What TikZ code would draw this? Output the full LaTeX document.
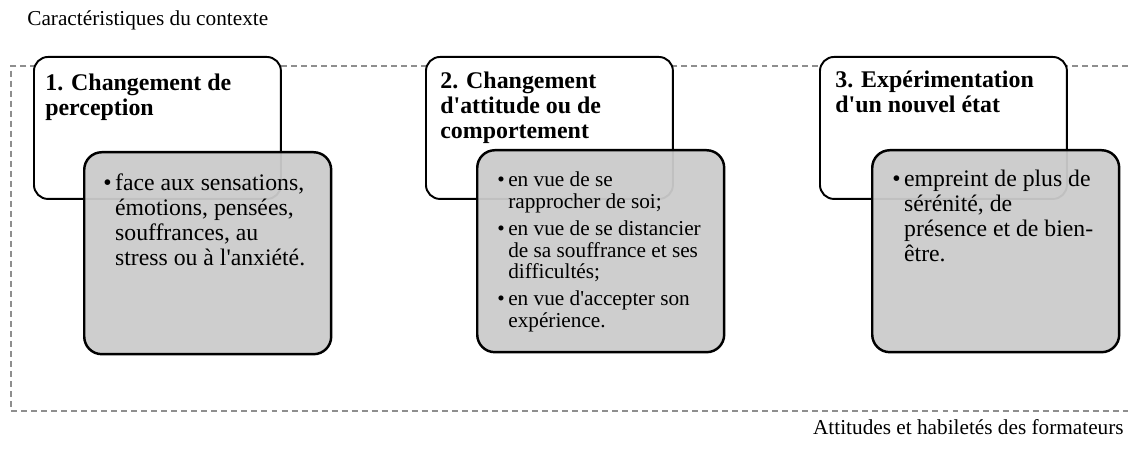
\documentclass[tikz,border=0pt]{standalone}
\usepackage{fontspec}
\setmainfont{Liberation Serif}
\usetikzlibrary{positioning}
\definecolor{fondgris}{HTML}{CBCBCB}
\definecolor{tirets}{HTML}{8E8E8E}
\newcommand\apos{\textquotesingle}
\tikzset{
    % Define white title box
    cadre/.style={
           draw=black,
           line width=1.1pt,
           rounded corners=8pt,
           fill=white,
           inner sep=0pt,
           minimum width=4.94cm,
           minimum height=2.84cm},
    % Define grey box with the bullets
    puces/.style={
           draw=black,
           line width=1.4pt,
           rounded corners=10pt,
           fill=fondgris,
           fill opacity=0.95,
           inner sep=0pt,
           minimum width=4.94cm,
           minimum height=4.04cm},
    titre/.style={anchor=base west, inner sep=0pt,
           font=\fontsize{13.6}{14}\selectfont\bfseries},
    texte/.style={anchor=base west, inner sep=0pt,
           font=\fontsize{13.5}{14.2}\selectfont},
    legende/.style={inner sep=0pt, font=\fontsize{12.1}{14}\selectfont}
}

\begin{document}
\begin{tikzpicture}[x=0.02cm, y=-0.02cm]
\useasboundingbox (0,0) rectangle (1128,449);

\node[legende, anchor=base west] (contexte) at (27,26) {Caractéristiques du contexte};
\draw[tirets, line width=0.6pt, dash pattern=on 3.4pt off 2.3pt]
(1128,66) -- (11,66) -- (11,411) -- (1128,411);
\node[legende, anchor=base east] (formateurs) at (1124,434) {Attitudes et habiletés des formateurs};

% 1
\node[cadre, anchor=north west] (cadre1) at (33,56) {};
\node[titre] (titre1) at ([shift={(12,35)}]cadre1.north west)
{\begin{tabular}[t]{@{}l@{}}1. Changement de\\perception\end{tabular}};
\node[puces, anchor=north west] (puces1) at ([shift={(50,95)}]cadre1.north west) {};
\node[texte] (texte1) at ([shift={(20,40)}]puces1.north west)
{\begin{tabular}[t]{@{}l@{\hspace{2pt}}l@{}}
\textbullet & face aux sensations,\\
 & émotions, pensées,\\
 & souffrances, au\\
 & stress ou à l\apos anxiété.
\end{tabular}};

% 2
\node[cadre, anchor=north west] (cadre2) at (425,56) {};
\node[titre] (titre2) at ([shift={(15,33)}]cadre2.north west)
{\begin{tabular}[t]{@{}l@{}}2. Changement\\d\apos attitude ou de\\comportement\end{tabular}};
\node[puces, anchor=north west] (puces2) at ([shift={(51,93)}]cadre2.north west) {};
\node[texte, font=\fontsize{12.1}{12.3}\selectfont] (texte2) at ([shift={(21,38)}]puces2.north west)
{\begin{tabular}[t]{@{}l@{\hspace{2pt}}l@{}}
\textbullet & en vue de se\\
 & rapprocher de soi;\\[3pt]
\textbullet & en vue de se distancier\\
 & de sa souffrance et ses\\
 & difficultés;\\[3pt]
\textbullet & en vue d\apos accepter son\\
 & expérience.
\end{tabular}};

% 3
\node[cadre, anchor=north west] (cadre3) at (819,56) {};
\node[titre] (titre3) at ([shift={(16,32)}]cadre3.north west)
{\begin{tabular}[t]{@{}l@{}}3. Expérimentation\\d\apos un nouvel état\end{tabular}};
\node[puces, anchor=north west] (puces3) at ([shift={(52,93)}]cadre3.north west) {};
\node[texte] (texte3) at ([shift={(21,38)}]puces3.north west)
{\begin{tabular}[t]{@{}l@{\hspace{2pt}}l@{}}
\textbullet & empreint de plus de\\
 & sérénité, de\\
 & présence et de bien-\\
 & être.
\end{tabular}};

\end{tikzpicture}
\end{document}
